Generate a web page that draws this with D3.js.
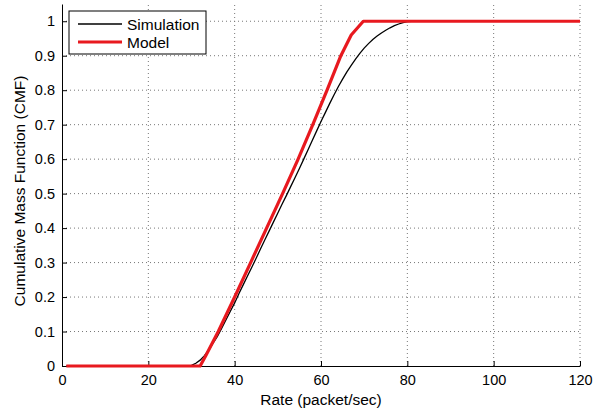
<!DOCTYPE html>
<html><head><meta charset="utf-8">
<script src="https://cdn.jsdelivr.net/npm/d3@7"></script>
<style>body{margin:0;background:#fff}svg{display:block}text{font-family:"Liberation Sans",Arial,sans-serif;}</style>
</head><body><svg id="c" width="607" height="411"></svg>
<script>
const xTicks = [0,20,40,60,80,100,120];
const yTicks = [0,0.1,0.2,0.3,0.4,0.5,0.6,0.7,0.8,0.9,1];
const yTickLabels = ["0","0.1","0.2","0.3","0.4","0.5","0.6","0.7","0.8","0.9","1"];
const simX = [1,29,30,31,32,33,34,35,36,37,38,39,40,41,42,43,44,45,46,47,48,49,50,51,52,53,54,55,56,57,58,59,60,61,62,63,64,65,66,67,68,69,70,71,72,73,74,75,76,77,78,79,80,81,120];
const simY = [0,0,0.002,0.008,0.017,0.03,0.047,0.066,0.086,0.11,0.134,0.159,0.183,0.21,0.236,0.262,0.287,0.313,0.34,0.366,0.392,0.418,0.444,0.47,0.495,0.521,0.547,0.573,0.6,0.627,0.655,0.682,0.709,0.735,0.761,0.786,0.81,0.832,0.853,0.872,0.89,0.907,0.922,0.935,0.947,0.957,0.966,0.974,0.981,0.987,0.992,0.996,0.999,1,1];
const modX = [1,32,33.3,36.2,40,43.7,47.4,51.1,54.7,58.1,61.4,64.6,67,69.8,120];
const modY = [0,0,0.03,0.1,0.2,0.3,0.4,0.5,0.6,0.7,0.8,0.9,0.96,1,1];
const seriesNames = ["Simulation","Model"];

const svg = d3.select("#c");
const L=62,R=580,T=4,B=366;
const x = d3.scaleLinear().domain([0,120]).range([L,R]);
const y = d3.scaleLinear().domain([0,1.05]).range([B,T]);

// grid
const g = svg.append("g");
g.selectAll("line.gx").data(xTicks.slice(1)).join("line")
  .attr("x1",d=>x(d)).attr("x2",d=>x(d)).attr("y1",B).attr("y2",T)
  .attr("stroke","#777").attr("stroke-width",1).attr("stroke-dasharray","1,3");
g.selectAll("line.gy").data(yTicks.slice(1)).join("line")
  .attr("y1",d=>y(d)).attr("y2",d=>y(d)).attr("x1",L).attr("x2",R)
  .attr("stroke","#777").attr("stroke-width",1).attr("stroke-dasharray","1,3");

// axes
const xa = svg.append("g").attr("transform",`translate(0,${B})`)
  .call(d3.axisBottom(x).tickValues(xTicks).tickSizeInner(-5).tickSizeOuter(0).tickPadding(9));
const ya = svg.append("g").attr("transform",`translate(${L},0)`)
  .call(d3.axisLeft(y).tickValues(yTicks).tickFormat((d,i)=>yTickLabels[i]).tickSizeInner(-5).tickSizeOuter(0).tickPadding(7));
[xa,ya].forEach(a=>{
  a.selectAll("text").attr("font-size",14.5).attr("fill","#000").attr("font-family","Liberation Sans, Arial, sans-serif");
  a.selectAll("line").attr("stroke","#000");
  a.select(".domain").attr("stroke","#000");
});

// lines
const line = d3.line().x(d=>x(d[0])).y(d=>y(d[1]));
svg.append("path").datum(simX.map((v,i)=>[v,simY[i]])).attr("d",line)
  .attr("fill","none").attr("stroke","#000").attr("stroke-width",1.3);
svg.append("path").datum(modX.map((v,i)=>[v,modY[i]])).attr("d",line)
  .attr("fill","none").attr("stroke","#e8191f").attr("stroke-width",3.2).attr("stroke-linejoin","round");

// labels
svg.append("text").attr("x",(L+R)/2).attr("y",405).attr("text-anchor","middle")
  .attr("font-size",15.5).text("Rate (packet/sec)");
svg.append("text").attr("transform",`translate(25,${(B+T)/2+6}) rotate(-90)`).attr("text-anchor","middle")
  .attr("font-size",15.5).text("Cumulative Mass Function (CMF)");

// legend
const lg = svg.append("g");
lg.append("rect").attr("x",69).attr("y",11).attr("width",137).attr("height",43)
  .attr("fill","#fff").attr("stroke","#000").attr("stroke-width",1);
const lc = ["#000","#e8191f"], lw=[1.3,3.2];
seriesNames.forEach((n,i)=>{
  const yy = 24 + i*18;
  lg.append("line").attr("x1",78).attr("x2",122).attr("y1",yy).attr("y2",yy)
    .attr("stroke",lc[i]).attr("stroke-width",lw[i]);
  lg.append("text").attr("x",127).attr("y",yy+5.5).attr("font-size",15.5).text(n);
});
</script></body></html>
